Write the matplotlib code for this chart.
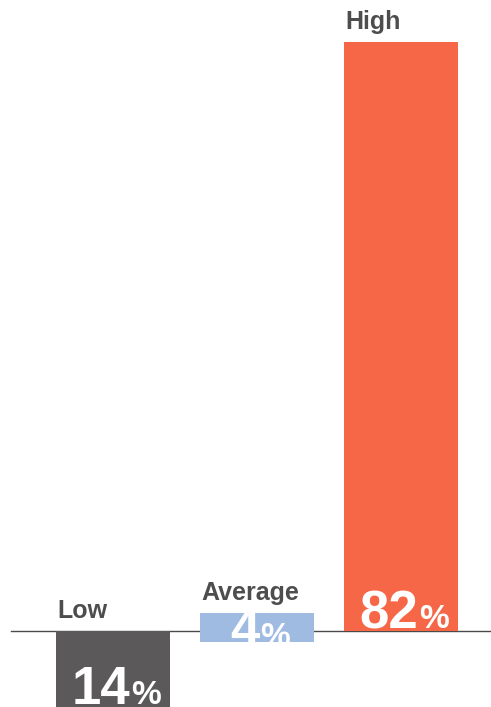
import matplotlib
matplotlib.use("Agg")
import matplotlib.pyplot as plt

plt.rcParams['font.family'] = ['Liberation Sans', 'DejaVu Sans']

# data
categories = ['Low', 'Average', 'High']
values = [14, 4, 82]
value_labels = ['14', '4', '82']

# styling
colors = ['#5b595a', '#9fbbe2', '#f66747']
bar_bottoms = [-14, -1.5, 0]
label_y = [-10.2, -2.1, 0.4]

fig = plt.figure(figsize=(4.91, 7.07), dpi=100)
ax = fig.add_axes([0, 0, 1, 1])
k = 589 / 82.0
ax.set_xlim((0 - 113) / 144.0, (491 - 113) / 144.0)
ax.set_ylim(-76 / k, 631 / k)
ax.axis('off')

x = list(range(len(categories)))
bars = ax.bar(x, values, bottom=bar_bottoms, width=114 / 144.0,
              color=colors, zorder=2)

# baseline starts a little in from the left edge
ax.axhline(0, xmin=11 / 491.0, xmax=1, color='#4a4a4a', lw=1.0, zorder=1)

fig.canvas.draw()
r = fig.canvas.get_renderer()

for i, b in enumerate(bars):
    left = b.get_x()
    top = max(b.get_y() + b.get_height(), 0)
    # category label above the bar
    ax.annotate(categories[i], xy=(left, top), xytext=(1, 13),
                textcoords='offset pixels', ha='left', va='baseline',
                fontsize=18, fontweight='bold', color='#4d4d4d')

    # value label, big digits + small percent, clipped to the bar
    t1 = ax.annotate(value_labels[i], xy=(x[i], label_y[i]), xytext=(0, 0),
                     textcoords='offset pixels', ha='left', va='baseline',
                     fontsize=38, fontweight='bold', color='white', zorder=3)
    t2 = ax.annotate('%', xy=(x[i], label_y[i]), xytext=(0, 0),
                     textcoords='offset pixels', ha='left', va='baseline',
                     fontsize=24, fontweight='bold', color='white', zorder=3)
    w1 = t1.get_window_extent(r).width
    w2 = t2.get_window_extent(r).width
    gap = 1
    start = -(w1 + gap + w2) / 2.0 + 3
    t1.set_position((start, 0))
    t2.set_position((start + w1 + gap, 0))
    t1.set_clip_path(b)
    t2.set_clip_path(b)

fig.savefig('out.png', dpi=100)
